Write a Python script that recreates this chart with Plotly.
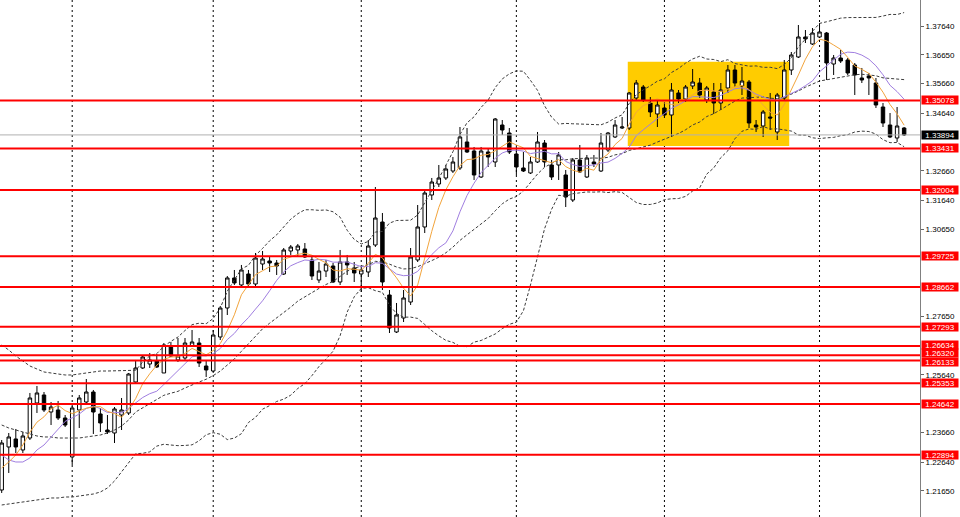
import numpy as np
import pandas as pd
import plotly.graph_objects as go

# ---------------- data ----------------
opens = [1.21683, 1.23162, 1.23437, 1.23059, 1.23471, 1.24675, 1.24950, 1.24365, 1.24434, 1.24159,
         1.22818, 1.24434, 1.24709, 1.25053, 1.24297, 1.23746, 1.23643, 1.24262, 1.24331, 1.25397,
         1.25879, 1.26016, 1.26119, 1.25707, 1.26635, 1.26154, 1.26222, 1.26635, 1.26738, 1.25947,
         1.25775, 1.26945, 1.27942, 1.28974, 1.28733, 1.29111, 1.28767, 1.29455, 1.29558, 1.29489,
         1.29111, 1.29902, 1.29937, 1.29971, 1.29593, 1.28905, 1.29214, 1.29386, 1.28836, 1.29524,
         1.29318, 1.29111, 1.29180, 1.30108, 1.30899, 1.28389, 1.27117, 1.27598, 1.28148, 1.29593,
         1.30728, 1.31828, 1.32206, 1.32413, 1.32653, 1.32757, 1.33651, 1.33341, 1.32447, 1.33307,
         1.32963, 1.34235, 1.33960, 1.33238, 1.32757, 1.32585, 1.32963, 1.33616, 1.32860, 1.32860,
         1.32516, 1.31656, 1.33032, 1.32447, 1.32963, 1.32653, 1.33376, 1.33823, 1.34132, 1.34132,
         1.35164, 1.35542, 1.34992, 1.34614, 1.34820, 1.34579, 1.35336, 1.35129, 1.35577, 1.35680,
         1.35095, 1.35370, 1.34992, 1.35508, 1.36127, 1.35577, 1.35714, 1.34235, 1.34201, 1.34510,
         1.33995, 1.35164, 1.36127, 1.36574, 1.37262, 1.37021, 1.37262, 1.37399, 1.36333, 1.36539,
         1.36471, 1.36299, 1.35852, 1.35920, 1.35680, 1.34854, 1.34235, 1.33788, 1.34132]
highs = [1.23402, 1.23643, 1.23781, 1.23678, 1.25019, 1.25260, 1.25053, 1.24709, 1.24744, 1.24262,
         1.24572, 1.24950, 1.25500, 1.25122, 1.24503, 1.24262, 1.24537, 1.24847, 1.25707, 1.26154,
         1.26326, 1.26394, 1.26360, 1.26738, 1.26773, 1.26910, 1.26910, 1.27185, 1.26910, 1.26154,
         1.27185, 1.28011, 1.29042, 1.29249, 1.29421, 1.29249, 1.29833, 1.29902, 1.29696, 1.29593,
         1.30005, 1.30108, 1.30143, 1.30177, 1.29696, 1.29524, 1.29593, 1.29489, 1.29937, 1.29765,
         1.29524, 1.29386, 1.30280, 1.32103, 1.31209, 1.28561, 1.28114, 1.28561, 1.30005, 1.31484,
         1.32000, 1.32413, 1.32860, 1.32860, 1.33135, 1.34166, 1.34132, 1.33479, 1.33479, 1.33444,
         1.34476, 1.34407, 1.34132, 1.33479, 1.33307, 1.33135, 1.33995, 1.33719, 1.33032, 1.33307,
         1.32688, 1.33100, 1.33547, 1.33204, 1.33204, 1.33960, 1.33995, 1.34407, 1.34510, 1.35370,
         1.35783, 1.35611, 1.35198, 1.35095, 1.35026, 1.35680, 1.35439, 1.35611, 1.36161, 1.35852,
         1.35577, 1.35680, 1.35680, 1.36299, 1.36299, 1.36230, 1.35783, 1.34407, 1.34751, 1.35336,
         1.35336, 1.36471, 1.36746, 1.37674, 1.37502, 1.37571, 1.37743, 1.37434, 1.36643, 1.36815,
         1.36539, 1.36367, 1.36196, 1.36024, 1.35852, 1.34992, 1.34648, 1.34854, 1.34166]
lows = [1.21580, 1.22268, 1.22955, 1.22955, 1.23402, 1.24331, 1.24365, 1.23918, 1.24090, 1.23850,
        1.22543, 1.23815, 1.24675, 1.23609, 1.23678, 1.23609, 1.23299, 1.23746, 1.24262, 1.25363,
        1.25844, 1.25879, 1.25879, 1.25707, 1.26257, 1.26085, 1.26154, 1.26601, 1.25913, 1.25569,
        1.25707, 1.26841, 1.27701, 1.28733, 1.28664, 1.28664, 1.28699, 1.29249, 1.29180, 1.29077,
        1.29077, 1.29765, 1.29730, 1.29661, 1.28905, 1.28802, 1.29008, 1.28802, 1.28733, 1.29077,
        1.28836, 1.28492, 1.29008, 1.30040, 1.28561, 1.27082, 1.27082, 1.27460, 1.28045, 1.29524,
        1.30521, 1.31656, 1.32103, 1.32344, 1.32585, 1.32688, 1.33272, 1.32344, 1.32413, 1.32791,
        1.32791, 1.33891, 1.33238, 1.32516, 1.32619, 1.32550, 1.32928, 1.32791, 1.32344, 1.32344,
        1.31415, 1.31587, 1.32585, 1.32413, 1.32791, 1.32619, 1.33307, 1.33788, 1.34098, 1.34063,
        1.35095, 1.35026, 1.34510, 1.34166, 1.34476, 1.33823, 1.34992, 1.35026, 1.35473, 1.35164,
        1.34992, 1.34614, 1.34751, 1.35336, 1.35542, 1.35267, 1.34132, 1.33995, 1.33823, 1.34063,
        1.33719, 1.35095, 1.35955, 1.36539, 1.37055, 1.36986, 1.37227, 1.35783, 1.35955, 1.36367,
        1.35955, 1.35267, 1.35680, 1.35267, 1.34820, 1.34166, 1.33788, 1.33651, 1.33857]
closes = [1.23299, 1.23506, 1.23162, 1.23540, 1.24847, 1.25019, 1.24434, 1.24537, 1.24159, 1.23918,
          1.24503, 1.24847, 1.25053, 1.24365, 1.23987, 1.23678, 1.24469, 1.24434, 1.25672, 1.25879,
          1.26257, 1.26154, 1.25913, 1.26669, 1.26291, 1.26291, 1.26738, 1.26773, 1.26050, 1.25810,
          1.27013, 1.27942, 1.28974, 1.28802, 1.29249, 1.28767, 1.29661, 1.29627, 1.29489, 1.29386,
          1.29937, 1.30040, 1.30074, 1.29696, 1.29042, 1.29214, 1.29455, 1.28836, 1.29524, 1.29421,
          1.29146, 1.29249, 1.30074, 1.31037, 1.28836, 1.27254, 1.27701, 1.28286, 1.29696, 1.30728,
          1.31897, 1.32275, 1.32413, 1.32722, 1.32963, 1.33823, 1.33307, 1.32516, 1.33341, 1.33135,
          1.34442, 1.34063, 1.33307, 1.32791, 1.32653, 1.32963, 1.33651, 1.32963, 1.32447, 1.33204,
          1.31759, 1.33032, 1.32619, 1.33100, 1.32894, 1.33616, 1.33960, 1.34235, 1.34166, 1.35336,
          1.35680, 1.35095, 1.34682, 1.34923, 1.34579, 1.35439, 1.35129, 1.35542, 1.35714, 1.35267,
          1.35508, 1.34992, 1.35439, 1.36127, 1.35680, 1.35748, 1.34304, 1.34166, 1.34682, 1.34476,
          1.35267, 1.36127, 1.36643, 1.37262, 1.37193, 1.37399, 1.37434, 1.36367, 1.36539, 1.36436,
          1.36024, 1.35955, 1.35783, 1.35852, 1.34923, 1.34304, 1.33823, 1.34201, 1.33894]

# indicator values for the first bars (their history lies left of the chart)
ma5_start = [1.22440, 1.22646, 1.22887, 1.23230]
ma10_start = [1.22887, 1.22715, 1.22646, 1.22646, 1.22784, 1.23059, 1.23230, 1.23506, 1.23746]
bb_upper_start = [1.26669, 1.26498, 1.26291, 1.26119, 1.25947, 1.25844, 1.25741, 1.25707, 1.25672, 1.25638,
                  1.25638, 1.25672, 1.25707, 1.25741, 1.25775, 1.25775, 1.25775, 1.25775, 1.25775]
bb_middle_start = [1.23918, 1.23815, 1.23746, 1.23678, 1.23609, 1.23540, 1.23506, 1.23506, 1.23471, 1.23471,
                   1.23471, 1.23471, 1.23506, 1.23540, 1.23574, 1.23643, 1.23746, 1.23884, 1.24090]
bb_lower_start = [1.21167, 1.21201, 1.21236, 1.21270, 1.21305, 1.21339, 1.21373, 1.21408, 1.21408, 1.21442,
                  1.21442, 1.21477, 1.21511, 1.21545, 1.21614, 1.21752, 1.21993, 1.22302, 1.22612]

levels = [1.35078, 1.33431, 1.32004, 1.29725, 1.28662, 1.27293, 1.26634, 1.26320,
          1.26133, 1.25353, 1.24642, 1.22894]
current_price = 1.33894
tick_values = [1.37640, 1.36650, 1.35660, 1.34640, 1.32660, 1.31640, 1.30650,
               1.27650, 1.25640, 1.23660, 1.22640, 1.21650]
tick_labels = ["1.37640", "1.36650", "1.35660", "1.34640", "1.32660", "1.31640", "1.30650",
               "1.27650", "1.25640", "1.23660", "1.22640", "1.21650"]
period_start_bars = [10, 30, 51, 73, 94, 116]
zone_bars = [88.8, 111.7]
zone_prices = [1.33513, 1.36412]

# ---------------- indicators ----------------
bars = np.arange(len(closes))
c = pd.Series(closes)
ma5 = c.rolling(5).mean().to_numpy()
ma5[:len(ma5_start)] = ma5_start
ma10 = c.rolling(10).mean().to_numpy()
ma10[:len(ma10_start)] = ma10_start
mid = c.rolling(20).mean()
sd = c.rolling(20).std(ddof=0)
bb_mid = mid.to_numpy()
bb_up = (mid + 2 * sd).to_numpy()
bb_lo = (mid - 2 * sd).to_numpy()
n0 = len(bb_upper_start)
bb_up[:n0] = bb_upper_start
bb_mid[:n0] = bb_middle_start
bb_lo[:n0] = bb_lower_start

fig = go.Figure()

band_line = dict(color="#3c3c3c", width=1, dash="3px,2px")
for arr in (bb_up, bb_mid, bb_lo):
    fig.add_trace(go.Scatter(x=bars, y=arr, mode="lines", line=band_line, hoverinfo="skip"))

fig.add_trace(go.Candlestick(
    x=bars, open=opens, high=highs, low=lows, close=closes,
    increasing=dict(fillcolor="white", line=dict(color="black", width=1)),
    decreasing=dict(fillcolor="black", line=dict(color="black", width=1)),
    whiskerwidth=0, hoverinfo="skip"))

fig.add_trace(go.Scatter(x=bars, y=ma10, mode="lines", line=dict(color="#a07ee0", width=1), hoverinfo="skip"))
fig.add_trace(go.Scatter(x=bars, y=ma5, mode="lines", line=dict(color="#f2a43c", width=1), hoverinfo="skip"))

shapes = []
shapes.append(dict(type="rect", xref="x", yref="y", x0=zone_bars[0], x1=zone_bars[1],
                   y0=zone_prices[0], y1=zone_prices[1], fillcolor="#FFCC00",
                   line=dict(width=0), layer="below"))
for b in period_start_bars:
    shapes.append(dict(type="line", xref="x", yref="paper", x0=b, x1=b, y0=0, y1=1,
                       line=dict(color="black", width=1, dash="2px,3px"), layer="below"))
shapes.append(dict(type="line", xref="paper", yref="y", x0=0, x1=1, y0=current_price, y1=current_price,
                   line=dict(color="#b0b0b0", width=1), layer="above"))
for v in levels:
    shapes.append(dict(type="line", xref="paper", yref="y", x0=0, x1=1, y0=v, y1=v,
                       line=dict(color="#FF0000", width=2), layer="above"))

# small vertical nudges so the three closely spaced labels stack without overlapping
label_nudge = {1.26634: 1.5, 1.26320: 2.5, 1.26133: -1.5}

annotations = []
lab_font = dict(family="Liberation Sans", size=8, color="white")
for v in levels:
    annotations.append(dict(x=1, xref="paper", xanchor="left", xshift=1, y=v, yref="y",
                            yanchor="middle", yshift=label_nudge.get(v, 0), text=f"{v:.5f}",
                            showarrow=False, bgcolor="#FF0000", font=lab_font, borderpad=0,
                            width=36, height=8))
annotations.append(dict(x=1, xref="paper", xanchor="left", xshift=1, y=current_price, yref="y",
                        yanchor="middle", text=f"{current_price:.5f}", showarrow=False,
                        bgcolor="black", font=lab_font, borderpad=0, width=36, height=8))

fig.update_layout(
    width=960, height=517,
    margin=dict(l=0, r=40, t=0, b=0, autoexpand=False),
    plot_bgcolor="white", paper_bgcolor="white",
    showlegend=False, hovermode=False,
    shapes=shapes, annotations=annotations,
    xaxis=dict(range=[-0.241, 130.25], showticklabels=False, showgrid=False, zeroline=False,
               rangeslider=dict(visible=False), ticks="", showline=False, fixedrange=True),
    yaxis=dict(side="right", range=[1.20754, 1.38534], tickvals=tick_values, ticktext=tick_labels,
               showgrid=False, zeroline=False, ticks="outside", ticklen=3, tickcolor="#666666",
               showline=True, linecolor="#808080", linewidth=1, automargin=False,
               tickfont=dict(family="Liberation Sans", size=8, color="black"), fixedrange=True),
)

fig.write_html("out.html", config={"displayModeBar": False, "staticPlot": True},
               post_script="document.body.style.margin='0px';document.body.style.overflow='hidden';")
